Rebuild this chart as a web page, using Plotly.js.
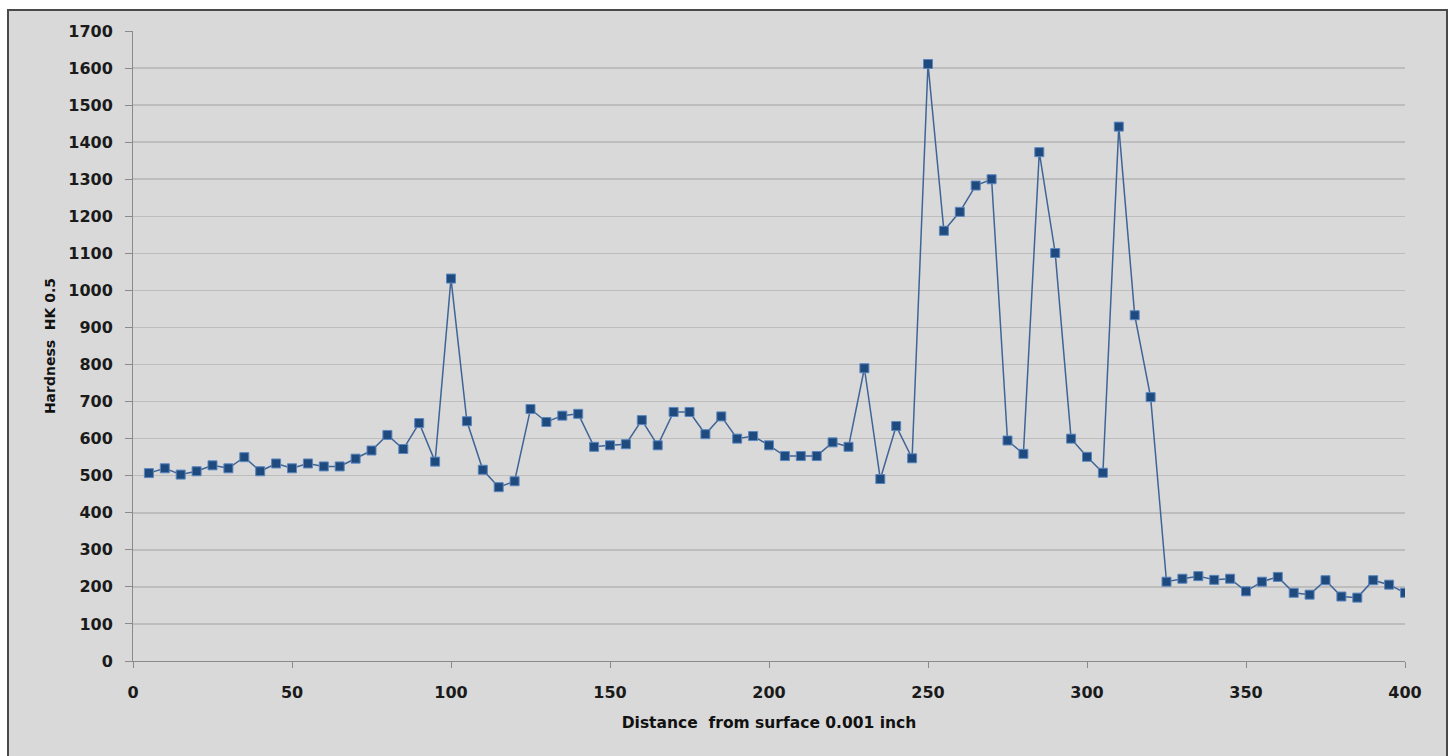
<!DOCTYPE html>
<html>
<head>
<meta charset="utf-8">
<script src="https://cdn.plot.ly/plotly-3.0.1.min.js"></script>
<style>
  html, body { margin: 0; padding: 0; background: #ffffff; overflow: hidden; width: 1452px; height: 756px; }
  #frame { position: absolute; left: 7px; top: 9px; width: 1437px; height: 800px;
           border-left: 2px solid #4a4a4a; border-top: 2px solid #4a4a4a; border-right: 2px solid #4a4a4a;
           background: #d9d9d9; }
  #chart { width: 1437px; height: 800px; }
</style>
</head>
<body>
<div id="frame"><div id="chart"></div></div>
<script>
// Distance from surface (0.001 inch)
const distance = [5,10,15,20,25,30,35,40,45,50,55,60,65,70,75,80,85,90,95,100,
                  105,110,115,120,125,130,135,140,145,150,155,160,165,170,175,180,185,190,195,200,
                  205,210,215,220,225,230,235,240,245,250,255,260,265,270,275,280,285,290,295,300,
                  305,310,315,320,325,330,335,340,345,350,355,360,365,370,375,380,385,390,395,400];
// Hardness HK 0.5
const hardness = [507,520,503,512,528,520,550,512,533,520,533,525,525,546,568,610,572,642,538,1032,
                  647,516,469,485,680,645,662,667,578,582,585,650,582,672,672,612,660,600,607,582,
                  553,553,553,590,578,790,491,634,547,1611,1161,1212,1283,1300,595,559,1373,1101,600,551,
                  508,1442,933,712,214,222,229,219,222,188,214,227,184,179,218,174,171,218,206,184];

const xTickVals = [0,50,100,150,200,250,300,350,400];
const yTickVals = [0,100,200,300,400,500,600,700,800,900,1000,1100,1200,1300,1400,1500,1600,1700];

const tickFont = {family: 'DejaVu Sans', size: 16, color: '#1a1a1a', weight: 'bold'};

const trace = {
  x: distance,
  y: hardness,
  type: 'scatter',
  mode: 'lines+markers',
  line: {color: '#3f6497', width: 1.5},
  marker: {symbol: 'square', size: 9, color: '#1f4a7e', line: {color: '#5a86bf', width: 1}},
  hoverinfo: 'x+y'
};

const layout = {
  width: 1437, height: 800,
  paper_bgcolor: '#d9d9d9',
  plot_bgcolor: '#d9d9d9',
  margin: {l: 124, r: 41, t: 20, b: 150},
  showlegend: false,
  xaxis: {
    range: [0, 400],
    tickvals: xTickVals,
    showgrid: false,
    zeroline: false,
    showline: true, linecolor: '#8a8a8a', linewidth: 1,
    ticks: 'outside', ticklen: 6, tickcolor: '#8a8a8a',
    ticklabelstandoff: 11,
    tickfont: tickFont,
    title: {text: 'Distance  from surface 0.001 inch', font: {family: 'DejaVu Sans', size: 15.5, color: '#111', weight: 'bold'}, standoff: 15}
  },
  yaxis: {
    range: [0, 1700],
    tickvals: yTickVals,
    showgrid: true, gridcolor: '#bdbdbd', gridwidth: 1.5,
    zeroline: false,
    showline: true, linecolor: '#8a8a8a', linewidth: 1,
    ticks: 'outside', ticklen: 7, tickcolor: '#8a8a8a',
    ticklabelstandoff: 9,
    tickfont: tickFont,
    title: {text: 'Hardness  HK 0.5', font: {family: 'DejaVu Sans', size: 14, color: '#111', weight: 'bold'}, standoff: 9}
  }
};

Plotly.newPlot('chart', [trace], layout, {displayModeBar: false, staticPlot: true});
</script>
</body>
</html>
